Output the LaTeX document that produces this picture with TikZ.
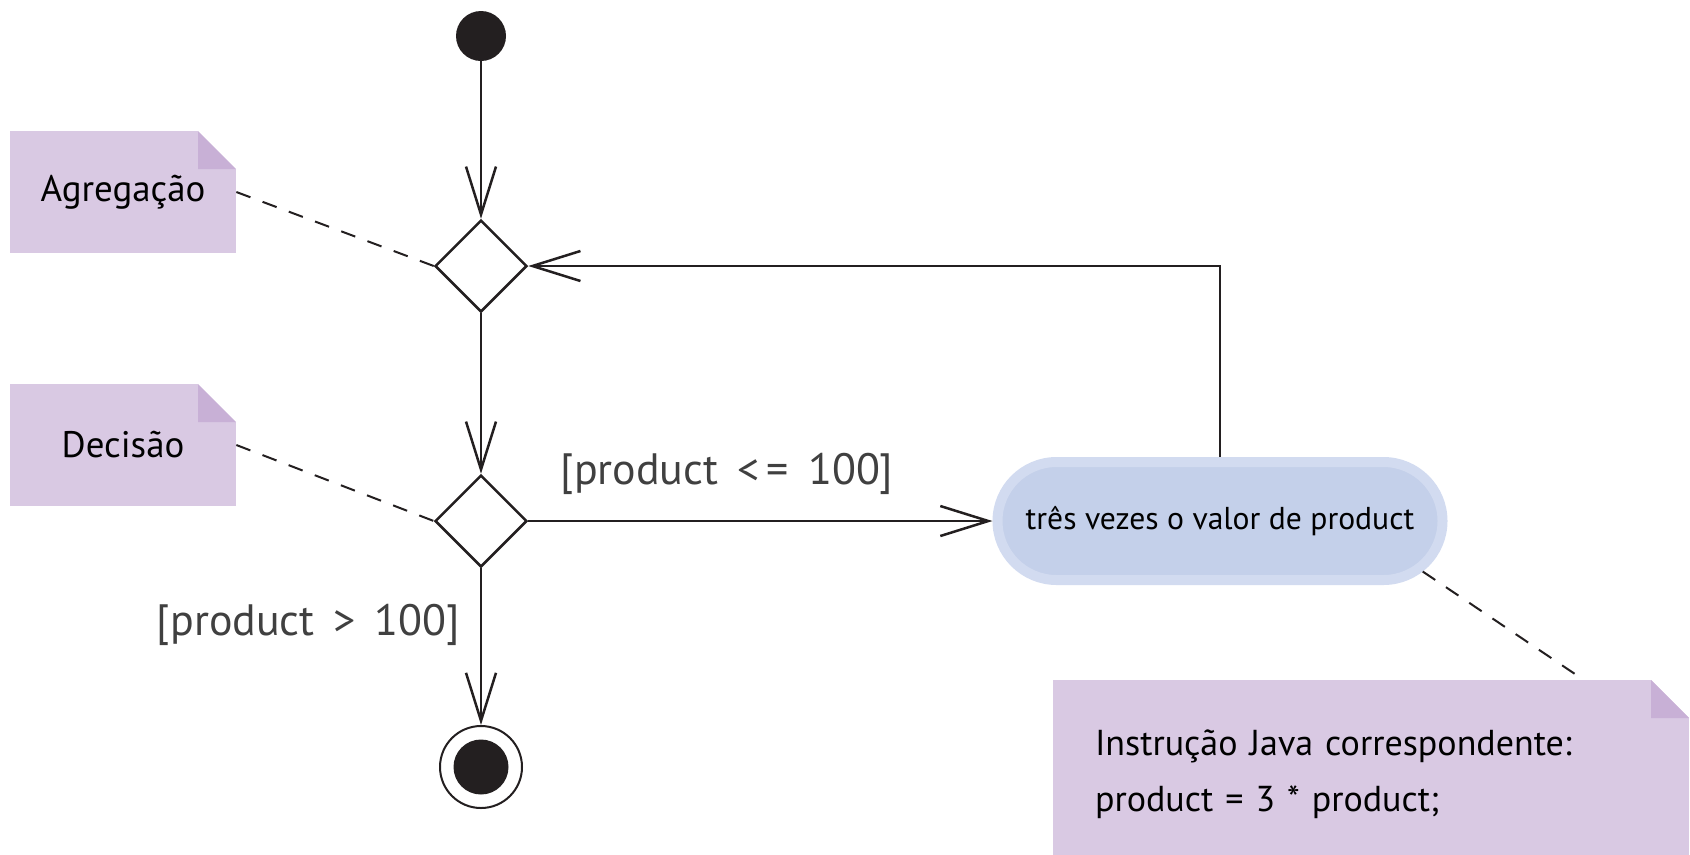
\documentclass[tikz,border=0pt]{standalone}
\usepackage{fontspec}
\setmainfont{PT Sans}
\usepackage{xcolor}
\usepackage{tikz}
\usetikzlibrary{arrows.meta, shapes, shapes.misc, positioning}
\definecolor{ink}{RGB}{35, 31, 32}
\definecolor{notefill}{RGB}{217, 201, 227}
\definecolor{notefold}{RGB}{200, 176, 214}
\definecolor{actfill}{RGB}{196, 208, 234}
\definecolor{actrim}{RGB}{210, 219, 240}
\tikzset{
    dotnode/.style = {circle, fill=ink, minimum size=1.0cm, inner sep=0em, node distance=0em},
    mergenode/.style = {diamond, draw=ink, line width=0.05cm, minimum width=1.84cm, minimum height=1.84cm,
      inner sep=0em, node distance=0em},
    endnode/.style = {circle, draw=ink, line width=0.04cm, minimum size=1.64cm, inner sep=0em, node distance=0em,
      path picture={\fill[ink] (path picture bounding box.center) circle (0.55cm);}},
    actnode/.style = {rounded rectangle, fill=actfill, draw=actrim, line width=0.2cm, minimum width=8.9cm,
      minimum height=2.36cm, inner sep=0em, node distance=0em, font=\fontsize{18}{22}\selectfont},
    notenode/.style = {rectangle, fill=notefill, minimum width=4.52cm, minimum height=2.44cm, inner sep=0em,
      node distance=0em, font=\fontsize{21}{25}\selectfont,
      path picture={
        \fill[white] (path picture bounding box.north east) -- ++(-0.76,0) -- ++(0.76,-0.76) -- cycle;
        \fill[notefold] (path picture bounding box.north east) ++(-0.76,0) -- ++(0,-0.76) -- ++(0.76,0) -- cycle;}},
    guardnode/.style = {draw=none, fill=none, rectangle, inner sep=0em, node distance=0em,
      text=black!75, font=\fontsize{25}{29}\selectfont},
    connect/.style = {ink, line width=0.05cm, -{Straight Barb[length=0.96cm, width=0.6cm, line width=0.05cm]}},
    notelink/.style = {ink, line width=0.04cm, dash pattern=on 0.3cm off 0.26cm}
}

\begin{document}
\begin{tikzpicture}
    \useasboundingbox (0,0) rectangle (33.8,-17.08);

    \node[dotnode, name=start] at (9.62,-0.72) {};
    \node[mergenode, name=merge, below of=start, yshift=-4.6cm] {};
    \node[mergenode, name=decision, below of=merge, yshift=-5.1cm] {};
    \node[endnode, name=final, below of=decision, yshift=-4.92cm] {};
    \node[actnode, name=act, right of=decision, xshift=14.78cm] {três vezes o valor de product};

    \draw[connect] (start) -- (merge);
    \draw[connect] (merge) -- (decision);
    \draw[connect] (decision) -- (final);
    \draw[connect] (decision.east) -- (act.west);
    \draw[connect] (act.north) |- (merge.east);

    \node[guardnode, name=le, right of=decision, xshift=4.92cm, yshift=0.94cm] {[product\, <\,=\, 100]};
    \node[guardnode, name=gt, left of=decision, xshift=-3.45cm, yshift=-2.08cm] {[product\, >\, 100]};

    % notes
    \node[notenode, name=agg, left of=merge, xshift=-7.16cm, yshift=1.48cm] {Agregação};
    \node[notenode, name=dec, left of=decision, xshift=-7.16cm, yshift=1.52cm] {Decisão};
    \node[notenode, name=java, below of=act, xshift=3.02cm, yshift=-5.07cm, minimum width=12.72cm,
      minimum height=3.78cm, inner xsep=0.84cm, text width=11.04cm, align=left,
      font=\fontsize{20.5}{32}\selectfont] {Instrução Java correspondente:\\product = 3 * product;};

    \draw[notelink] (agg.east) -- (merge.west);
    \draw[notelink] (dec.east) -- (decision.west);
    \draw[notelink] (act.-14) -- ([xshift=-2.12cm]java.north east);
\end{tikzpicture}
\end{document}
